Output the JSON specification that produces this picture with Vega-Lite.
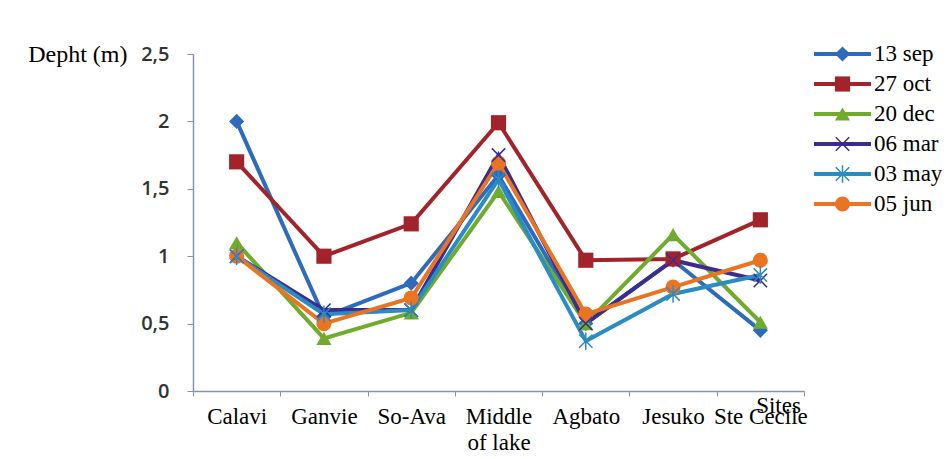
{
  "$schema": "https://vega.github.io/schema/vega-lite/v6.json",
  "background": "white",
  "padding": {"left": 27, "top": 42, "right": 0, "bottom": 0},
  "autosize": {"type": "pad"},
  "bounds": "flush",
  "spacing": 10,
  "config": {"view": {"stroke": null}},
  "datasets": {
    "depth": [
      {"series": "13 sep", "site": "Calavi", "depth": 2.0},
      {"series": "13 sep", "site": "Ganvie", "depth": 0.55},
      {"series": "13 sep", "site": "So-Ava", "depth": 0.8},
      {"series": "13 sep", "site": "Middle of lake", "depth": 1.6},
      {"series": "13 sep", "site": "Agbato", "depth": 0.5},
      {"series": "13 sep", "site": "Jesuko", "depth": 0.97},
      {"series": "13 sep", "site": "Ste Cecile", "depth": 0.45},
      {"series": "27 oct", "site": "Calavi", "depth": 1.7},
      {"series": "27 oct", "site": "Ganvie", "depth": 1.0},
      {"series": "27 oct", "site": "So-Ava", "depth": 1.24},
      {"series": "27 oct", "site": "Middle of lake", "depth": 1.99},
      {"series": "27 oct", "site": "Agbato", "depth": 0.97},
      {"series": "27 oct", "site": "Jesuko", "depth": 0.98},
      {"series": "27 oct", "site": "Ste Cecile", "depth": 1.27},
      {"series": "20 dec", "site": "Calavi", "depth": 1.1},
      {"series": "20 dec", "site": "Ganvie", "depth": 0.39},
      {"series": "20 dec", "site": "So-Ava", "depth": 0.58},
      {"series": "20 dec", "site": "Middle of lake", "depth": 1.48},
      {"series": "20 dec", "site": "Agbato", "depth": 0.5},
      {"series": "20 dec", "site": "Jesuko", "depth": 1.16},
      {"series": "20 dec", "site": "Ste Cecile", "depth": 0.51},
      {"series": "06 mar", "site": "Calavi", "depth": 1.0},
      {"series": "06 mar", "site": "Ganvie", "depth": 0.6},
      {"series": "06 mar", "site": "So-Ava", "depth": 0.6},
      {"series": "06 mar", "site": "Middle of lake", "depth": 1.75},
      {"series": "06 mar", "site": "Agbato", "depth": 0.5},
      {"series": "06 mar", "site": "Jesuko", "depth": 0.97},
      {"series": "06 mar", "site": "Ste Cecile", "depth": 0.82},
      {"series": "03 may", "site": "Calavi", "depth": 1.0},
      {"series": "03 may", "site": "Ganvie", "depth": 0.57},
      {"series": "03 may", "site": "So-Ava", "depth": 0.6},
      {"series": "03 may", "site": "Middle of lake", "depth": 1.57},
      {"series": "03 may", "site": "Agbato", "depth": 0.37},
      {"series": "03 may", "site": "Jesuko", "depth": 0.72},
      {"series": "03 may", "site": "Ste Cecile", "depth": 0.86},
      {"series": "05 jun", "site": "Calavi", "depth": 1.0},
      {"series": "05 jun", "site": "Ganvie", "depth": 0.5},
      {"series": "05 jun", "site": "So-Ava", "depth": 0.69},
      {"series": "05 jun", "site": "Middle of lake", "depth": 1.69},
      {"series": "05 jun", "site": "Agbato", "depth": 0.57},
      {"series": "05 jun", "site": "Jesuko", "depth": 0.77},
      {"series": "05 jun", "site": "Ste Cecile", "depth": 0.97}
    ],
    "series": [
      {"series": "13 sep"}, {"series": "27 oct"}, {"series": "20 dec"},
      {"series": "06 mar"}, {"series": "03 may"}, {"series": "05 jun"}
    ]
  },
  "hconcat": [
    {
      "width": 611,
      "height": 337,
      "data": {"name": "depth"},
      "encoding": {
        "x": {
          "field": "site", "type": "nominal", "bandPosition": 0.5,
          "sort": ["Calavi", "Ganvie", "So-Ava", "Middle of lake", "Agbato", "Jesuko", "Ste Cecile"],
          "scale": {"type": "band", "paddingInner": 0, "paddingOuter": 0},
          "axis": {
            "title": "Sites", "titleX": 585, "titleY": 14, "titleAlign": "center", "titleBaseline": "middle",
            "titleFont": "Liberation Serif", "titleFontSize": 23, "titleFontWeight": "normal", "titleColor": "black",
            "labelFont": "Liberation Serif", "labelFontSize": 23, "labelColor": "black", "labelAngle": 0,
            "labelBaseline": "top", "labelPadding": 9, "labelLineHeight": 26,
            "labelExpr": "datum.value == 'Middle of lake' ? ['Middle', 'of lake'] : datum.value",
            "tickBand": "extent", "tickSize": 5, "tickColor": "#8a93a6", "domainColor": "#8a93a6", "domainWidth": 1.5,
            "grid": false, "labelOverlap": false
          }
        },
        "y": {
          "field": "depth", "type": "quantitative",
          "scale": {"domain": [0, 2.5], "nice": false},
          "axis": {
            "values": [0, 0.5, 1, 1.5, 2, 2.5],
            "labelExpr": "replace(format(datum.value, '.1~f'), '.', ',')",
            "title": "Depht (m)", "titleAngle": 0, "titleAlign": "right", "titleBaseline": "middle",
            "titleX": -66, "titleY": 0,
            "titleFont": "Liberation Serif", "titleFontSize": 24, "titleFontWeight": "normal", "titleColor": "black",
            "labelFont": "Open Sans", "labelFontSize": 20, "labelFontWeight": 600, "labelColor": "#333333",
            "labelPadding": 18, "tickSize": 6, "tickColor": "#8a93a6", "domainColor": "#8a93a6", "domainWidth": 1.5,
            "grid": false
          }
        },
        "color": {
          "field": "series", "type": "nominal",
          "scale": {
            "domain": ["13 sep", "27 oct", "20 dec", "06 mar", "03 may", "05 jun"],
            "range": ["#2f6bbd", "#a3232a", "#6fac2e", "#3b2d8f", "#2b8bc3", "#ea7422"]
          },
          "legend": null
        }
      },
      "layer": [
        {"mark": {"type": "line", "strokeWidth": 4}},
        {
          "transform": [{"filter": {"field": "series", "oneOf": ["13 sep", "27 oct", "20 dec", "05 jun"]}}],
          "mark": {"type": "point", "filled": true, "opacity": 1, "size": 230},
          "encoding": {
            "shape": {
              "field": "series", "type": "nominal",
              "scale": {
                "domain": ["13 sep", "27 oct", "20 dec", "06 mar", "03 may", "05 jun"],
                "range": ["diamond", "square", "triangle-up", "M-1,-1L1,1M-1,1L1,-1", "M-1,-1L1,1M-1,1L1,-1M0,-1.3L0,1.3", "circle"]
              },
              "legend": null
            }
          }
        },
        {
          "transform": [{"filter": {"field": "series", "oneOf": ["06 mar", "03 may"]}}],
          "mark": {"type": "point", "filled": false, "opacity": 1, "size": 180, "strokeWidth": 1.5},
          "encoding": {"shape": {"field": "series", "type": "nominal", "legend": null}}
        }
      ]
    },
    {
      "width": 57,
      "height": 150,
      "data": {"name": "series"},
      "encoding": {
        "y": {
          "field": "series", "type": "nominal",
          "sort": ["13 sep", "27 oct", "20 dec", "06 mar", "03 may", "05 jun"],
          "scale": {"type": "point", "padding": 0},
          "axis": null
        },
        "color": {"field": "series", "type": "nominal", "legend": null}
      },
      "layer": [
        {
          "mark": {"type": "rule", "strokeWidth": 4},
          "encoding": {
            "x": {"datum": 0, "type": "quantitative", "scale": {"domain": [0, 1]}, "axis": null},
            "x2": {"datum": 1}
          }
        },
        {
          "transform": [{"filter": {"field": "series", "oneOf": ["13 sep", "27 oct", "20 dec", "05 jun"]}}],
          "mark": {"type": "point", "filled": true, "opacity": 1, "size": 230},
          "encoding": {
            "x": {"datum": 0.5, "type": "quantitative"},
            "shape": {"field": "series", "type": "nominal", "legend": null}
          }
        },
        {
          "transform": [{"filter": {"field": "series", "oneOf": ["06 mar", "03 may"]}}],
          "mark": {"type": "point", "filled": false, "opacity": 1, "size": 180, "strokeWidth": 1.5},
          "encoding": {
            "x": {"datum": 0.5, "type": "quantitative"},
            "shape": {"field": "series", "type": "nominal", "legend": null}
          }
        },
        {
          "mark": {"type": "text", "align": "left", "baseline": "middle", "dx": 3, "font": "Liberation Serif", "fontSize": 23},
          "encoding": {
            "x": {"datum": 1, "type": "quantitative"},
            "text": {"field": "series"},
            "color": {"value": "black"}
          }
        }
      ]
    }
  ]
}
